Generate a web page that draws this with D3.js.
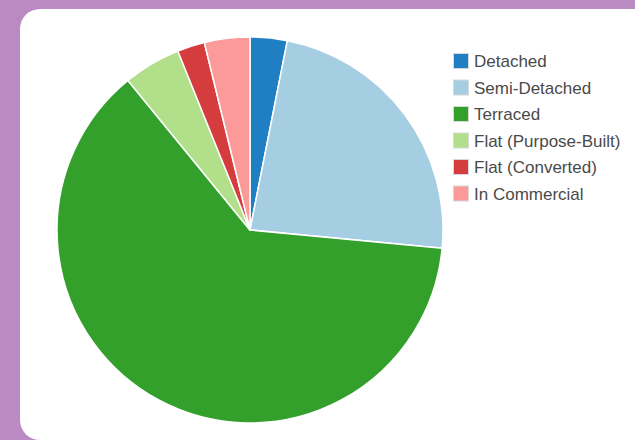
<!DOCTYPE html>
<html>
<head>
<meta charset="utf-8">
<script src="https://cdn.jsdelivr.net/npm/d3@7"></script>
<style>
  html, body { margin: 0; padding: 0; background: #b98bc2; }
  svg { display: block; }
</style>
</head>
<body>
<svg id="chart" width="635" height="440"></svg>
<script>
// Dwelling types (share of stock, %)
const categories = ["Detached", "Semi-Detached", "Terraced", "Flat (Purpose-Built)", "Flat (Converted)", "In Commercial"];
const shares = [3.1, 23.4, 62.6, 4.8, 2.3, 3.8];
const colours = ["#1f7fc2", "#a6cee3", "#33a02c", "#b2df8a", "#d43c3e", "#fb9a99"];

const svg = d3.select("#chart");

// white rounded panel
svg.append("rect")
  .attr("x", 20).attr("y", 9)
  .attr("width", 640).attr("height", 431)
  .attr("rx", 20).attr("ry", 20)
  .attr("fill", "#ffffff");

const cx = 250, cy = 230, r = 193;

const data = categories.map((c, i) => ({ name: c, value: shares[i] }));
const colour = d3.scaleOrdinal().domain(categories).range(colours);

const pie = d3.pie().value(d => d.value).sort(null);
const arc = d3.arc().innerRadius(0).outerRadius(r);

svg.append("g")
  .attr("transform", `translate(${cx},${cy})`)
  .selectAll("path")
  .data(pie(data))
  .join("path")
  .attr("d", arc)
  .attr("fill", d => colour(d.data.name))
  .attr("stroke", "#ffffff")
  .attr("stroke-width", 1.5)
  .attr("stroke-linejoin", "round");

// legend
const legend = svg.append("g").attr("transform", "translate(453,53)");
const rowStep = 26.5;
const item = legend.selectAll("g")
  .data(categories)
  .join("g")
  .attr("transform", (d, i) => `translate(0,${i * rowStep})`);

item.append("rect")
  .attr("x", 0.5).attr("y", 0.5)
  .attr("width", 15).attr("height", 15)
  .attr("fill", d => colour(d))
  .attr("stroke", "#d8d8d8")
  .attr("stroke-width", 1);

item.append("text")
  .attr("x", 21).attr("y", 8)
  .attr("dy", "0.36em")
  .attr("font-family", "Liberation Sans, Arial, sans-serif")
  .attr("font-size", 17)
  .attr("fill", "#4a4a4a")
  .text(d => d);
</script>
</body>
</html>
